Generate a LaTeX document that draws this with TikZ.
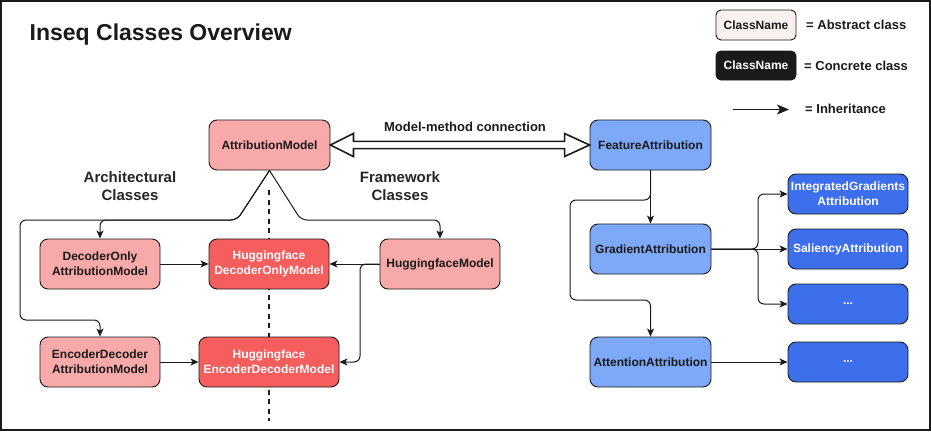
\documentclass[tikz,border=0pt]{standalone}
\usepackage{fontspec}
\setmainfont{Liberation Sans}
\usetikzlibrary{arrows.meta,calc}
\definecolor{redL}{HTML}{F8A9A9}
\definecolor{redD}{HTML}{F65D5D}
\definecolor{blueL}{HTML}{7EA8F8}
\definecolor{blueD}{HTML}{3D6EEB}
\definecolor{lgA}{HTML}{F8F1F0}
\definecolor{lgC}{HTML}{1A1A1A}
\definecolor{ink}{HTML}{1A1A1A}
\begin{document}
\begin{tikzpicture}[x=1pt,y=-1pt,
  cls/.style={draw=ink, line width=0.9pt, rounded corners=8pt, minimum width=120pt, minimum height=50pt,
    inner sep=0pt, align=center, font=\bfseries\fontsize{12}{15}\selectfont, text=ink},
  absR/.style={cls, fill=redL},
  conR/.style={cls, fill=redD, text=white},
  absB/.style={cls, fill=blueL},
  conB/.style={cls, fill=blueD, text=white, minimum height=40pt},
  lgbox/.style={draw=ink, line width=0.9pt, rounded corners=5pt, minimum width=80pt, minimum height=30pt,
    inner sep=0pt, font=\bfseries\fontsize{12}{14}\selectfont},
  lgtxt/.style={anchor=west, inner sep=0pt, font=\bfseries\fontsize{13}{15}\selectfont, text=ink},
  grp/.style={align=center, inner sep=0pt, font=\bfseries\fontsize{15}{18}\selectfont, text=ink!95},
  arr/.style={-{Stealth[length=8pt,width=7pt,inset=2pt]}, line width=1pt, draw=ink, rounded corners=6pt},
]
\useasboundingbox (0,0) rectangle (931,431);
\draw[line width=1.6pt, draw=ink] (0.8,0.8) rectangle (930.2,430.2);

% title
\node[anchor=west, inner sep=0pt, font=\bfseries\fontsize{23}{27}\selectfont, text=ink] (title) at (29.5,35) {Inseq Classes Overview};

% legend
\node[lgbox, fill=lgA, text=ink] (lga) at (756,25) {ClassName};
\node[lgtxt] (lgat) at (806,25) {= Abstract class};
\node[lgbox, fill=lgC, text=white, minimum height=29pt] (lgc) at (756,65.5) {ClassName};
\node[lgtxt] (lgct) at (804,65.5) {= Concrete class};
\coordinate (lg1) at (733,109.5);
\coordinate (lg2) at (789,109.5);
\draw[line width=1.5pt, draw=ink, -{Stealth[length=12pt,width=10pt,inset=3pt]}] (lg1) -- (lg2);
\node[lgtxt] (lgit) at (805,109) {= Inheritance};

% dashed separator (behind nodes)
\coordinate (dtop) at (269,190);
\coordinate (dbot) at (269,421);
\draw[line width=2pt, draw=ink, dash pattern=on 5pt off 4.5pt] (dtop) -- (dbot);

% group labels
\node[grp] (arch) at (130,186) {Architectural\\Classes};
\node[grp] (fw) at (400,186) {Framework\\Classes};
\node[inner sep=0pt, font=\bfseries\fontsize{13}{15}\selectfont, text=ink] (mm) at (465,127) {Model-method connection};

% left nodes
\node[absR, minimum width=121pt] (am) at (269.5,145) {AttributionModel};
\node[absR] (dom) at (100,264) {DecoderOnly\\AttributionModel};
\node[conR] (hfdo) at (269,264) {Huggingface\\DecoderOnlyModel};
\node[absR] (hfm) at (440,264) {HuggingfaceModel};
\node[absR] (eda) at (100,362) {EncoderDecoder\\AttributionModel};
\node[conR, minimum width=140pt] (hfed) at (269,362) {Huggingface\\EncoderDecoderModel};

% right nodes
\node[absB, minimum width=121pt] (fa) at (650.5,145) {FeatureAttribution};
\node[absB, minimum width=121pt] (ga) at (650.5,249) {GradientAttribution};
\node[absB, minimum width=121pt] (aa) at (650.5,362) {AttentionAttribution};
\node[conB] (ig) at (848,194) {IntegratedGradients\\Attribution};
\node[conB] (sa) at (848,249) {SaliencyAttribution};
\node[conB] (d1) at (848,304) {...};
\node[conB] (d2) at (848,362) {...};

% model-method connection (hollow double arrow)
\draw[line width=1.6pt, draw=ink, fill=white, line join=miter]
  (am.east) -- ($(am.east)+(23,-11.5)$) -- ($(am.east)+(23,-3.6)$) -- ($(fa.west)+(-25,-3.6)$)
  -- ($(fa.west)+(-25,-11.5)$) -- (fa.west) -- ($(fa.west)+(-25,11.5)$) -- ($(fa.west)+(-25,3.6)$)
  -- ($(am.east)+(23,3.6)$) -- ($(am.east)+(23,11.5)$) -- cycle;

% left connectors
\draw[arr] (am.south) -- (237,220) -| (dom.north);
\draw[arr] (am.south) -- (237,220) -- (20,220) -- (20,320) -| (eda.north);
\draw[arr] (am.south) -- (301,220) -| (hfm.north);
\draw[arr] (dom.east) -- (hfdo.west);
\draw[arr] (eda.east) -- (hfed.west);
\draw[arr] (hfm.west) -- (hfdo.east);
\draw[arr] (hfm.west) -- (360,264) |- (hfed.east);

% right connectors
\draw[arr] (fa.south) -- (ga.north);
\draw[arr] (fa.south) |- (570,200) -- (570,300) -| (aa.north);
\draw[arr] (ga.east) -- (758,249) |- (ig.west);
\draw[arr] (ga.east) -- (sa.west);
\draw[arr] (ga.east) -- (758,249) |- (d1.west);
\draw[arr] (aa.east) -- (d2.west);
\end{tikzpicture}
\end{document}
